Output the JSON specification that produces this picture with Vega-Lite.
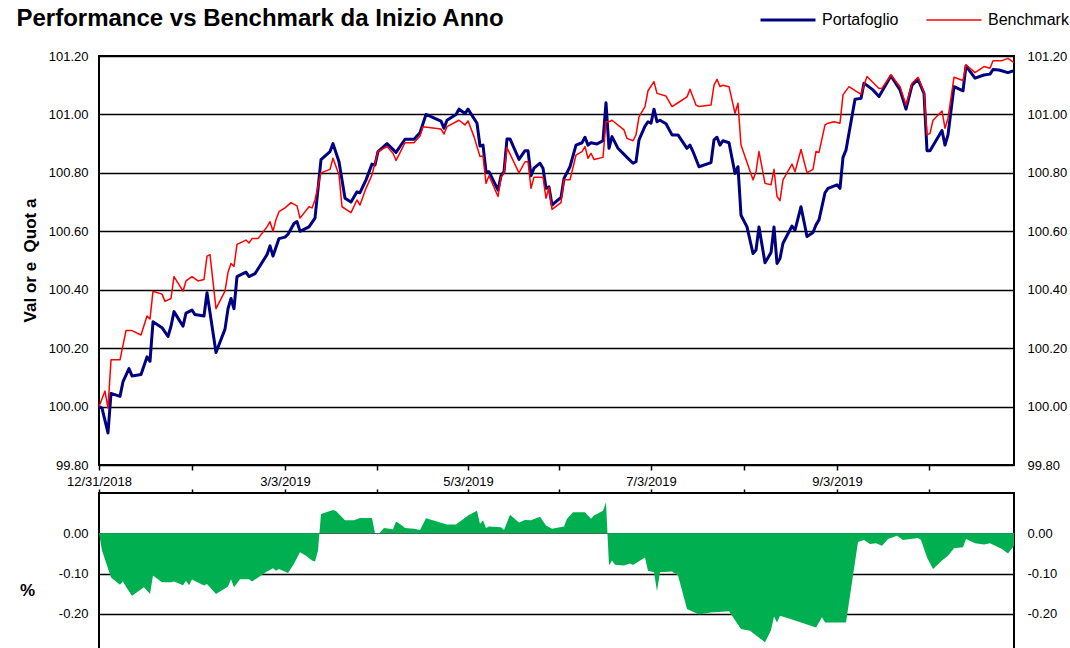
{
  "$schema": "https://vega.github.io/schema/vega-lite/v6.json",
  "background": "white",
  "padding": {"left": 16, "top": 7, "right": 0, "bottom": 0},
  "title": {"text": "Performance vs Benchmark da Inizio Anno", "anchor": "start", "font": "Liberation Sans", "fontSize": 24, "fontWeight": "bold", "color": "black", "offset": 10, "frame": "bounds", "dy": 29, "dx": -2},
  "config": {
    "font": "Liberation Sans",
    "view": {"stroke": "black", "strokeWidth": 2},
    "axis": {"labelFont": "Liberation Sans", "labelFontSize": 13, "labelColor": "black", "titleFont": "Liberation Sans", "titleColor": "black", "titleFontWeight": "bold", "titleFontSize": 17}
  },
  "bounds": "flush",
  "spacing": 28,
  "datasets": {
    "lines": [
      {"d":"2018-12-31","s":"Portafoglio","v":100.00},{"d":"2019-01-01","s":"Portafoglio","v":99.995},{"d":"2019-01-03","s":"Portafoglio","v":99.91},{"d":"2019-01-04","s":"Portafoglio","v":100.045},{"d":"2019-01-07","s":"Portafoglio","v":100.035},{"d":"2019-01-08","s":"Portafoglio","v":100.085},{"d":"2019-01-10","s":"Portafoglio","v":100.13},{"d":"2019-01-11","s":"Portafoglio","v":100.105},{"d":"2019-01-14","s":"Portafoglio","v":100.11},{"d":"2019-01-16","s":"Portafoglio","v":100.17},{"d":"2019-01-17","s":"Portafoglio","v":100.155},{"d":"2019-01-18","s":"Portafoglio","v":100.29},{"d":"2019-01-21","s":"Portafoglio","v":100.27},{"d":"2019-01-23","s":"Portafoglio","v":100.24},{"d":"2019-01-24","s":"Portafoglio","v":100.275},{"d":"2019-01-25","s":"Portafoglio","v":100.325},{"d":"2019-01-28","s":"Portafoglio","v":100.275},{"d":"2019-01-29","s":"Portafoglio","v":100.32},{"d":"2019-01-31","s":"Portafoglio","v":100.33},{"d":"2019-02-01","s":"Portafoglio","v":100.315},{"d":"2019-02-04","s":"Portafoglio","v":100.31},{"d":"2019-02-05","s":"Portafoglio","v":100.39},{"d":"2019-02-08","s":"Portafoglio","v":100.185},{"d":"2019-02-11","s":"Portafoglio","v":100.265},{"d":"2019-02-12","s":"Portafoglio","v":100.335},{"d":"2019-02-13","s":"Portafoglio","v":100.37},{"d":"2019-02-14","s":"Portafoglio","v":100.335},{"d":"2019-02-15","s":"Portafoglio","v":100.445},{"d":"2019-02-18","s":"Portafoglio","v":100.46},{"d":"2019-02-19","s":"Portafoglio","v":100.445},{"d":"2019-02-21","s":"Portafoglio","v":100.455},{"d":"2019-02-25","s":"Portafoglio","v":100.52},{"d":"2019-02-26","s":"Portafoglio","v":100.55},{"d":"2019-02-27","s":"Portafoglio","v":100.515},{"d":"2019-02-28","s":"Portafoglio","v":100.545},{"d":"2019-03-01","s":"Portafoglio","v":100.575},{"d":"2019-03-03","s":"Portafoglio","v":100.58},{"d":"2019-03-04","s":"Portafoglio","v":100.59},{"d":"2019-03-06","s":"Portafoglio","v":100.627},{"d":"2019-03-07","s":"Portafoglio","v":100.633},{"d":"2019-03-08","s":"Portafoglio","v":100.60},{"d":"2019-03-11","s":"Portafoglio","v":100.615},{"d":"2019-03-13","s":"Portafoglio","v":100.645},{"d":"2019-03-15","s":"Portafoglio","v":100.845},{"d":"2019-03-18","s":"Portafoglio","v":100.873},{"d":"2019-03-19","s":"Portafoglio","v":100.90},{"d":"2019-03-21","s":"Portafoglio","v":100.838},{"d":"2019-03-23","s":"Portafoglio","v":100.713},{"d":"2019-03-25","s":"Portafoglio","v":100.70},{"d":"2019-03-27","s":"Portafoglio","v":100.735},{"d":"2019-03-28","s":"Portafoglio","v":100.732},{"d":"2019-03-30","s":"Portafoglio","v":100.776},{"d":"2019-04-01","s":"Portafoglio","v":100.83},{"d":"2019-04-02","s":"Portafoglio","v":100.827},{"d":"2019-04-03","s":"Portafoglio","v":100.873},{"d":"2019-04-06","s":"Portafoglio","v":100.90},{"d":"2019-04-09","s":"Portafoglio","v":100.87},{"d":"2019-04-12","s":"Portafoglio","v":100.915},{"d":"2019-04-15","s":"Portafoglio","v":100.915},{"d":"2019-04-17","s":"Portafoglio","v":100.937},{"d":"2019-04-19","s":"Portafoglio","v":101.00},{"d":"2019-04-24","s":"Portafoglio","v":100.977},{"d":"2019-04-25","s":"Portafoglio","v":100.953},{"d":"2019-04-26","s":"Portafoglio","v":100.98},{"d":"2019-04-29","s":"Portafoglio","v":101.00},{"d":"2019-04-30","s":"Portafoglio","v":101.018},{"d":"2019-05-02","s":"Portafoglio","v":101.003},{"d":"2019-05-03","s":"Portafoglio","v":101.018},{"d":"2019-05-06","s":"Portafoglio","v":100.97},{"d":"2019-05-07","s":"Portafoglio","v":100.892},{"d":"2019-05-08","s":"Portafoglio","v":100.895},{"d":"2019-05-09","s":"Portafoglio","v":100.804},{"d":"2019-05-10","s":"Portafoglio","v":100.804},{"d":"2019-05-13","s":"Portafoglio","v":100.741},{"d":"2019-05-14","s":"Portafoglio","v":100.79},{"d":"2019-05-15","s":"Portafoglio","v":100.804},{"d":"2019-05-16","s":"Portafoglio","v":100.916},{"d":"2019-05-17","s":"Portafoglio","v":100.916},{"d":"2019-05-20","s":"Portafoglio","v":100.846},{"d":"2019-05-22","s":"Portafoglio","v":100.876},{"d":"2019-05-23","s":"Portafoglio","v":100.876},{"d":"2019-05-24","s":"Portafoglio","v":100.79},{"d":"2019-05-25","s":"Portafoglio","v":100.816},{"d":"2019-05-27","s":"Portafoglio","v":100.833},{"d":"2019-05-28","s":"Portafoglio","v":100.816},{"d":"2019-05-29","s":"Portafoglio","v":100.747},{"d":"2019-05-30","s":"Portafoglio","v":100.752},{"d":"2019-05-31","s":"Portafoglio","v":100.69},{"d":"2019-06-03","s":"Portafoglio","v":100.716},{"d":"2019-06-04","s":"Portafoglio","v":100.781},{"d":"2019-06-06","s":"Portafoglio","v":100.821},{"d":"2019-06-08","s":"Portafoglio","v":100.895},{"d":"2019-06-10","s":"Portafoglio","v":100.903},{"d":"2019-06-11","s":"Portafoglio","v":100.922},{"d":"2019-06-12","s":"Portafoglio","v":100.895},{"d":"2019-06-13","s":"Portafoglio","v":100.903},{"d":"2019-06-15","s":"Portafoglio","v":100.899},{"d":"2019-06-17","s":"Portafoglio","v":100.91},{"d":"2019-06-18","s":"Portafoglio","v":101.04},{"d":"2019-06-19","s":"Portafoglio","v":100.884},{"d":"2019-06-20","s":"Portafoglio","v":100.924},{"d":"2019-06-22","s":"Portafoglio","v":100.884},{"d":"2019-06-25","s":"Portafoglio","v":100.853},{"d":"2019-06-27","s":"Portafoglio","v":100.833},{"d":"2019-06-28","s":"Portafoglio","v":100.838},{"d":"2019-06-29","s":"Portafoglio","v":100.913},{"d":"2019-07-01","s":"Portafoglio","v":100.96},{"d":"2019-07-02","s":"Portafoglio","v":100.975},{"d":"2019-07-03","s":"Portafoglio","v":100.97},{"d":"2019-07-04","s":"Portafoglio","v":101.018},{"d":"2019-07-05","s":"Portafoglio","v":100.975},{"d":"2019-07-06","s":"Portafoglio","v":100.98},{"d":"2019-07-08","s":"Portafoglio","v":100.968},{"d":"2019-07-10","s":"Portafoglio","v":100.93},{"d":"2019-07-12","s":"Portafoglio","v":100.93},{"d":"2019-07-15","s":"Portafoglio","v":100.884},{"d":"2019-07-16","s":"Portafoglio","v":100.895},{"d":"2019-07-17","s":"Portafoglio","v":100.873},{"d":"2019-07-19","s":"Portafoglio","v":100.821},{"d":"2019-07-23","s":"Portafoglio","v":100.835},{"d":"2019-07-24","s":"Portafoglio","v":100.913},{"d":"2019-07-25","s":"Portafoglio","v":100.922},{"d":"2019-07-26","s":"Portafoglio","v":100.895},{"d":"2019-07-27","s":"Portafoglio","v":100.91},{"d":"2019-07-29","s":"Portafoglio","v":100.903},{"d":"2019-07-31","s":"Portafoglio","v":100.798},{"d":"2019-08-01","s":"Portafoglio","v":100.821},{"d":"2019-08-02","s":"Portafoglio","v":100.655},{"d":"2019-08-04","s":"Portafoglio","v":100.615},{"d":"2019-08-06","s":"Portafoglio","v":100.524},{"d":"2019-08-07","s":"Portafoglio","v":100.536},{"d":"2019-08-08","s":"Portafoglio","v":100.615},{"d":"2019-08-10","s":"Portafoglio","v":100.492},{"d":"2019-08-12","s":"Portafoglio","v":100.527},{"d":"2019-08-13","s":"Portafoglio","v":100.615},{"d":"2019-08-14","s":"Portafoglio","v":100.49},{"d":"2019-08-15","s":"Portafoglio","v":100.507},{"d":"2019-08-16","s":"Portafoglio","v":100.559},{"d":"2019-08-19","s":"Portafoglio","v":100.618},{"d":"2019-08-20","s":"Portafoglio","v":100.604},{"d":"2019-08-22","s":"Portafoglio","v":100.684},{"d":"2019-08-24","s":"Portafoglio","v":100.582},{"d":"2019-08-26","s":"Portafoglio","v":100.596},{"d":"2019-08-27","s":"Portafoglio","v":100.622},{"d":"2019-08-28","s":"Portafoglio","v":100.639},{"d":"2019-08-30","s":"Portafoglio","v":100.732},{"d":"2019-08-31","s":"Portafoglio","v":100.747},{"d":"2019-09-03","s":"Portafoglio","v":100.759},{"d":"2019-09-04","s":"Portafoglio","v":100.747},{"d":"2019-09-05","s":"Portafoglio","v":100.853},{"d":"2019-09-06","s":"Portafoglio","v":100.878},{"d":"2019-09-09","s":"Portafoglio","v":101.052},{"d":"2019-09-11","s":"Portafoglio","v":101.055},{"d":"2019-09-12","s":"Portafoglio","v":101.107},{"d":"2019-09-15","s":"Portafoglio","v":101.084},{"d":"2019-09-17","s":"Portafoglio","v":101.061},{"d":"2019-09-21","s":"Portafoglio","v":101.132},{"d":"2019-09-24","s":"Portafoglio","v":101.084},{"d":"2019-09-26","s":"Portafoglio","v":101.018},{"d":"2019-09-28","s":"Portafoglio","v":101.10},{"d":"2019-09-30","s":"Portafoglio","v":101.12},{"d":"2019-10-02","s":"Portafoglio","v":101.072},{"d":"2019-10-03","s":"Portafoglio","v":100.876},{"d":"2019-10-04","s":"Portafoglio","v":100.876},{"d":"2019-10-08","s":"Portafoglio","v":100.945},{"d":"2019-10-09","s":"Portafoglio","v":100.895},{"d":"2019-10-10","s":"Portafoglio","v":100.93},{"d":"2019-10-12","s":"Portafoglio","v":101.095},{"d":"2019-10-15","s":"Portafoglio","v":101.081},{"d":"2019-10-16","s":"Portafoglio","v":101.166},{"d":"2019-10-19","s":"Portafoglio","v":101.124},{"d":"2019-10-22","s":"Portafoglio","v":101.135},{"d":"2019-10-24","s":"Portafoglio","v":101.138},{"d":"2019-10-25","s":"Portafoglio","v":101.154},{"d":"2019-10-27","s":"Portafoglio","v":101.152},{"d":"2019-10-30","s":"Portafoglio","v":101.143},{"d":"2019-11-01","s":"Portafoglio","v":101.15},
      {"d":"2018-12-31","s":"Benchmark","v":100.00},{"d":"2019-01-02","s":"Benchmark","v":100.053},{"d":"2019-01-03","s":"Benchmark","v":99.995},{"d":"2019-01-04","s":"Benchmark","v":100.16},{"d":"2019-01-07","s":"Benchmark","v":100.16},{"d":"2019-01-09","s":"Benchmark","v":100.26},{"d":"2019-01-11","s":"Benchmark","v":100.26},{"d":"2019-01-14","s":"Benchmark","v":100.245},{"d":"2019-01-16","s":"Benchmark","v":100.31},{"d":"2019-01-17","s":"Benchmark","v":100.30},{"d":"2019-01-18","s":"Benchmark","v":100.395},{"d":"2019-01-21","s":"Benchmark","v":100.385},{"d":"2019-01-22","s":"Benchmark","v":100.36},{"d":"2019-01-24","s":"Benchmark","v":100.37},{"d":"2019-01-25","s":"Benchmark","v":100.445},{"d":"2019-01-28","s":"Benchmark","v":100.395},{"d":"2019-01-29","s":"Benchmark","v":100.43},{"d":"2019-01-31","s":"Benchmark","v":100.445},{"d":"2019-02-02","s":"Benchmark","v":100.43},{"d":"2019-02-04","s":"Benchmark","v":100.435},{"d":"2019-02-05","s":"Benchmark","v":100.515},{"d":"2019-02-06","s":"Benchmark","v":100.52},{"d":"2019-02-08","s":"Benchmark","v":100.335},{"d":"2019-02-11","s":"Benchmark","v":100.395},{"d":"2019-02-12","s":"Benchmark","v":100.46},{"d":"2019-02-13","s":"Benchmark","v":100.49},{"d":"2019-02-14","s":"Benchmark","v":100.48},{"d":"2019-02-15","s":"Benchmark","v":100.555},{"d":"2019-02-18","s":"Benchmark","v":100.57},{"d":"2019-02-19","s":"Benchmark","v":100.56},{"d":"2019-02-20","s":"Benchmark","v":100.575},{"d":"2019-02-22","s":"Benchmark","v":100.575},{"d":"2019-02-25","s":"Benchmark","v":100.615},{"d":"2019-02-26","s":"Benchmark","v":100.633},{"d":"2019-02-27","s":"Benchmark","v":100.60},{"d":"2019-02-28","s":"Benchmark","v":100.64},{"d":"2019-03-01","s":"Benchmark","v":100.667},{"d":"2019-03-03","s":"Benchmark","v":100.68},{"d":"2019-03-05","s":"Benchmark","v":100.698},{"d":"2019-03-07","s":"Benchmark","v":100.687},{"d":"2019-03-08","s":"Benchmark","v":100.645},{"d":"2019-03-11","s":"Benchmark","v":100.684},{"d":"2019-03-12","s":"Benchmark","v":100.68},{"d":"2019-03-13","s":"Benchmark","v":100.707},{"d":"2019-03-15","s":"Benchmark","v":100.80},{"d":"2019-03-18","s":"Benchmark","v":100.812},{"d":"2019-03-19","s":"Benchmark","v":100.85},{"d":"2019-03-21","s":"Benchmark","v":100.793},{"d":"2019-03-22","s":"Benchmark","v":100.684},{"d":"2019-03-25","s":"Benchmark","v":100.664},{"d":"2019-03-27","s":"Benchmark","v":100.707},{"d":"2019-03-28","s":"Benchmark","v":100.69},{"d":"2019-03-30","s":"Benchmark","v":100.747},{"d":"2019-04-01","s":"Benchmark","v":100.793},{"d":"2019-04-03","s":"Benchmark","v":100.873},{"d":"2019-04-06","s":"Benchmark","v":100.89},{"d":"2019-04-08","s":"Benchmark","v":100.867},{"d":"2019-04-09","s":"Benchmark","v":100.842},{"d":"2019-04-12","s":"Benchmark","v":100.903},{"d":"2019-04-15","s":"Benchmark","v":100.903},{"d":"2019-04-17","s":"Benchmark","v":100.926},{"d":"2019-04-18","s":"Benchmark","v":100.958},{"d":"2019-04-24","s":"Benchmark","v":100.95},{"d":"2019-04-25","s":"Benchmark","v":100.933},{"d":"2019-04-26","s":"Benchmark","v":100.958},{"d":"2019-04-30","s":"Benchmark","v":100.98},{"d":"2019-05-02","s":"Benchmark","v":100.964},{"d":"2019-05-03","s":"Benchmark","v":100.978},{"d":"2019-05-05","s":"Benchmark","v":100.924},{"d":"2019-05-07","s":"Benchmark","v":100.856},{"d":"2019-05-08","s":"Benchmark","v":100.858},{"d":"2019-05-09","s":"Benchmark","v":100.764},{"d":"2019-05-10","s":"Benchmark","v":100.79},{"d":"2019-05-13","s":"Benchmark","v":100.719},{"d":"2019-05-14","s":"Benchmark","v":100.785},{"d":"2019-05-15","s":"Benchmark","v":100.80},{"d":"2019-05-16","s":"Benchmark","v":100.886},{"d":"2019-05-20","s":"Benchmark","v":100.80},{"d":"2019-05-22","s":"Benchmark","v":100.838},{"d":"2019-05-23","s":"Benchmark","v":100.838},{"d":"2019-05-24","s":"Benchmark","v":100.747},{"d":"2019-05-25","s":"Benchmark","v":100.785},{"d":"2019-05-28","s":"Benchmark","v":100.785},{"d":"2019-05-29","s":"Benchmark","v":100.713},{"d":"2019-05-30","s":"Benchmark","v":100.75},{"d":"2019-05-31","s":"Benchmark","v":100.675},{"d":"2019-06-03","s":"Benchmark","v":100.698},{"d":"2019-06-04","s":"Benchmark","v":100.776},{"d":"2019-06-06","s":"Benchmark","v":100.776},{"d":"2019-06-08","s":"Benchmark","v":100.861},{"d":"2019-06-10","s":"Benchmark","v":100.873},{"d":"2019-06-11","s":"Benchmark","v":100.89},{"d":"2019-06-12","s":"Benchmark","v":100.85},{"d":"2019-06-13","s":"Benchmark","v":100.867},{"d":"2019-06-14","s":"Benchmark","v":100.846},{"d":"2019-06-17","s":"Benchmark","v":100.853},{"d":"2019-06-18","s":"Benchmark","v":100.975},{"d":"2019-06-19","s":"Benchmark","v":100.975},{"d":"2019-06-20","s":"Benchmark","v":100.98},{"d":"2019-06-24","s":"Benchmark","v":100.947},{"d":"2019-06-25","s":"Benchmark","v":100.918},{"d":"2019-06-27","s":"Benchmark","v":100.91},{"d":"2019-06-28","s":"Benchmark","v":100.93},{"d":"2019-06-29","s":"Benchmark","v":100.992},{"d":"2019-07-01","s":"Benchmark","v":101.027},{"d":"2019-07-02","s":"Benchmark","v":101.081},{"d":"2019-07-04","s":"Benchmark","v":101.112},{"d":"2019-07-05","s":"Benchmark","v":101.072},{"d":"2019-07-08","s":"Benchmark","v":101.063},{"d":"2019-07-10","s":"Benchmark","v":101.027},{"d":"2019-07-12","s":"Benchmark","v":101.04},{"d":"2019-07-15","s":"Benchmark","v":101.06},{"d":"2019-07-16","s":"Benchmark","v":101.086},{"d":"2019-07-18","s":"Benchmark","v":101.032},{"d":"2019-07-19","s":"Benchmark","v":101.027},{"d":"2019-07-23","s":"Benchmark","v":101.032},{"d":"2019-07-24","s":"Benchmark","v":101.10},{"d":"2019-07-25","s":"Benchmark","v":101.12},{"d":"2019-07-26","s":"Benchmark","v":101.095},{"d":"2019-07-27","s":"Benchmark","v":101.10},{"d":"2019-07-29","s":"Benchmark","v":101.095},{"d":"2019-07-31","s":"Benchmark","v":101.004},{"d":"2019-08-01","s":"Benchmark","v":101.038},{"d":"2019-08-02","s":"Benchmark","v":100.895},{"d":"2019-08-06","s":"Benchmark","v":100.776},{"d":"2019-08-07","s":"Benchmark","v":100.804},{"d":"2019-08-08","s":"Benchmark","v":100.873},{"d":"2019-08-10","s":"Benchmark","v":100.764},{"d":"2019-08-12","s":"Benchmark","v":100.759},{"d":"2019-08-13","s":"Benchmark","v":100.812},{"d":"2019-08-14","s":"Benchmark","v":100.719},{"d":"2019-08-15","s":"Benchmark","v":100.705},{"d":"2019-08-16","s":"Benchmark","v":100.776},{"d":"2019-08-19","s":"Benchmark","v":100.83},{"d":"2019-08-20","s":"Benchmark","v":100.804},{"d":"2019-08-22","s":"Benchmark","v":100.88},{"d":"2019-08-24","s":"Benchmark","v":100.80},{"d":"2019-08-26","s":"Benchmark","v":100.812},{"d":"2019-08-27","s":"Benchmark","v":100.873},{"d":"2019-08-28","s":"Benchmark","v":100.87},{"d":"2019-08-30","s":"Benchmark","v":100.964},{"d":"2019-08-31","s":"Benchmark","v":100.97},{"d":"2019-09-02","s":"Benchmark","v":100.975},{"d":"2019-09-04","s":"Benchmark","v":100.97},{"d":"2019-09-05","s":"Benchmark","v":101.067},{"d":"2019-09-07","s":"Benchmark","v":101.095},{"d":"2019-09-11","s":"Benchmark","v":101.069},{"d":"2019-09-13","s":"Benchmark","v":101.13},{"d":"2019-09-17","s":"Benchmark","v":101.089},{"d":"2019-09-18","s":"Benchmark","v":101.09},{"d":"2019-09-21","s":"Benchmark","v":101.135},{"d":"2019-09-24","s":"Benchmark","v":101.095},{"d":"2019-09-26","s":"Benchmark","v":101.032},{"d":"2019-09-28","s":"Benchmark","v":101.107},{"d":"2019-09-30","s":"Benchmark","v":101.127},{"d":"2019-10-02","s":"Benchmark","v":101.075},{"d":"2019-10-03","s":"Benchmark","v":100.93},{"d":"2019-10-04","s":"Benchmark","v":100.935},{"d":"2019-10-05","s":"Benchmark","v":100.98},{"d":"2019-10-08","s":"Benchmark","v":101.012},{"d":"2019-10-09","s":"Benchmark","v":100.953},{"d":"2019-10-10","s":"Benchmark","v":100.987},{"d":"2019-10-12","s":"Benchmark","v":101.127},{"d":"2019-10-15","s":"Benchmark","v":101.116},{"d":"2019-10-16","s":"Benchmark","v":101.17},{"d":"2019-10-19","s":"Benchmark","v":101.143},{"d":"2019-10-22","s":"Benchmark","v":101.164},{"d":"2019-10-24","s":"Benchmark","v":101.158},{"d":"2019-10-25","s":"Benchmark","v":101.184},{"d":"2019-10-28","s":"Benchmark","v":101.184},{"d":"2019-10-30","s":"Benchmark","v":101.192},{"d":"2019-11-01","s":"Benchmark","v":101.177}
    ],
    "diff": [
      {"d":"2018-12-31","v":0},{"d":"2019-01-01","v":-0.043},{"d":"2019-01-04","v":-0.11},{"d":"2019-01-07","v":-0.128},{"d":"2019-01-08","v":-0.12},{"d":"2019-01-09","v":-0.133},{"d":"2019-01-11","v":-0.155},{"d":"2019-01-15","v":-0.134},{"d":"2019-01-17","v":-0.151},{"d":"2019-01-18","v":-0.105},{"d":"2019-01-21","v":-0.122},{"d":"2019-01-24","v":-0.122},{"d":"2019-01-25","v":-0.12},{"d":"2019-01-28","v":-0.129},{"d":"2019-01-29","v":-0.118},{"d":"2019-01-30","v":-0.129},{"d":"2019-01-31","v":-0.115},{"d":"2019-02-04","v":-0.13},{"d":"2019-02-05","v":-0.126},{"d":"2019-02-08","v":-0.151},{"d":"2019-02-12","v":-0.132},{"d":"2019-02-13","v":-0.114},{"d":"2019-02-14","v":-0.134},{"d":"2019-02-16","v":-0.114},{"d":"2019-02-19","v":-0.114},{"d":"2019-02-20","v":-0.12},{"d":"2019-02-23","v":-0.105},{"d":"2019-02-25","v":-0.095},{"d":"2019-02-27","v":-0.087},{"d":"2019-02-28","v":-0.093},{"d":"2019-03-01","v":-0.089},{"d":"2019-03-04","v":-0.099},{"d":"2019-03-06","v":-0.076},{"d":"2019-03-08","v":-0.047},{"d":"2019-03-10","v":-0.056},{"d":"2019-03-12","v":-0.068},{"d":"2019-03-13","v":-0.07},{"d":"2019-03-14","v":-0.043},{"d":"2019-03-15","v":0.048},{"d":"2019-03-19","v":0.058},{"d":"2019-03-20","v":0.055},{"d":"2019-03-23","v":0.032},{"d":"2019-03-26","v":0.032},{"d":"2019-03-28","v":0.038},{"d":"2019-04-01","v":0.038},{"d":"2019-04-02","v":0.0},{"d":"2019-04-03","v":-0.003},{"d":"2019-04-05","v":0.013},{"d":"2019-04-08","v":0.01},{"d":"2019-04-09","v":0.029},{"d":"2019-04-11","v":0.019},{"d":"2019-04-12","v":0.013},{"d":"2019-04-15","v":0.011},{"d":"2019-04-17","v":0.008},{"d":"2019-04-19","v":0.037},{"d":"2019-04-26","v":0.022},{"d":"2019-04-29","v":0.022},{"d":"2019-05-01","v":0.033},{"d":"2019-05-03","v":0.044},{"d":"2019-05-06","v":0.056},{"d":"2019-05-07","v":0.023},{"d":"2019-05-08","v":0.032},{"d":"2019-05-09","v":0.013},{"d":"2019-05-10","v":0.017},{"d":"2019-05-14","v":0.015},{"d":"2019-05-15","v":0.008},{"d":"2019-05-17","v":0.046},{"d":"2019-05-20","v":0.027},{"d":"2019-05-22","v":0.033},{"d":"2019-05-24","v":0.032},{"d":"2019-05-27","v":0.041},{"d":"2019-05-29","v":0.019},{"d":"2019-05-31","v":0.011},{"d":"2019-06-04","v":0.017},{"d":"2019-06-05","v":0.036},{"d":"2019-06-07","v":0.052},{"d":"2019-06-11","v":0.052},{"d":"2019-06-12","v":0.044},{"d":"2019-06-13","v":0.036},{"d":"2019-06-14","v":0.044},{"d":"2019-06-17","v":0.056},{"d":"2019-06-18","v":0.077},{"d":"2019-06-19","v":-0.08},{"d":"2019-06-20","v":-0.068},{"d":"2019-06-21","v":-0.078},{"d":"2019-06-24","v":-0.08},{"d":"2019-06-26","v":-0.075},{"d":"2019-06-27","v":-0.079},{"d":"2019-07-01","v":-0.06},{"d":"2019-07-02","v":-0.093},{"d":"2019-07-04","v":-0.097},{"d":"2019-07-05","v":-0.144},{"d":"2019-07-06","v":-0.097},{"d":"2019-07-10","v":-0.095},{"d":"2019-07-12","v":-0.105},{"d":"2019-07-15","v":-0.188},{"d":"2019-07-19","v":-0.202},{"d":"2019-07-23","v":-0.197},{"d":"2019-07-29","v":-0.194},{"d":"2019-08-02","v":-0.238},{"d":"2019-08-05","v":-0.242},{"d":"2019-08-10","v":-0.271},{"d":"2019-08-12","v":-0.241},{"d":"2019-08-13","v":-0.207},{"d":"2019-08-14","v":-0.222},{"d":"2019-08-15","v":-0.205},{"d":"2019-08-20","v":-0.217},{"d":"2019-08-23","v":-0.224},{"d":"2019-08-27","v":-0.234},{"d":"2019-08-29","v":-0.209},{"d":"2019-08-30","v":-0.222},{"d":"2019-09-03","v":-0.222},{"d":"2019-09-06","v":-0.222},{"d":"2019-09-10","v":-0.022},{"d":"2019-09-12","v":-0.017},{"d":"2019-09-14","v":-0.027},{"d":"2019-09-16","v":-0.025},{"d":"2019-09-18","v":-0.031},{"d":"2019-09-20","v":-0.014},{"d":"2019-09-23","v":-0.006},{"d":"2019-09-25","v":-0.017},{"d":"2019-09-30","v":-0.012},{"d":"2019-10-01","v":-0.017},{"d":"2019-10-03","v":-0.06},{"d":"2019-10-05","v":-0.089},{"d":"2019-10-08","v":-0.068},{"d":"2019-10-10","v":-0.056},{"d":"2019-10-12","v":-0.037},{"d":"2019-10-15","v":-0.035},{"d":"2019-10-16","v":-0.014},{"d":"2019-10-19","v":-0.025},{"d":"2019-10-22","v":-0.028},{"d":"2019-10-24","v":-0.025},{"d":"2019-10-28","v":-0.039},{"d":"2019-10-30","v":-0.05},{"d":"2019-11-01","v":-0.031}
    ]
  },
  "vconcat": [
    {
      "width": 915,
      "height": 409,
      "data": {"name": "lines"},
      "encoding": {
        "x": {"field": "d", "type": "temporal",
          "scale": {"type": "utc", "domain": [{"year": 2018, "month": 12, "date": 31, "utc": true}, {"year": 2019, "month": 11, "date": 1, "utc": true}]},
          "axis": {"title": null, "grid": false, "domain": false, "ticks": true, "tickColor": "black", "tickSize": 5, "tickWidth": 1.5, "labelPadding": 5, "labelAngle": 0, "labelFlush": false, "labelOverlap": false, "labelBound": false,
            "values": [{"year": 2018, "month": 12, "date": 31, "utc": true}, {"year": 2019, "month": 1, "date": 31, "utc": true}, {"year": 2019, "month": 3, "date": 3, "utc": true}, {"year": 2019, "month": 4, "date": 2, "hours": 12, "utc": true}, {"year": 2019, "month": 5, "date": 3, "utc": true}, {"year": 2019, "month": 6, "date": 2, "hours": 12, "utc": true}, {"year": 2019, "month": 7, "date": 3, "utc": true}, {"year": 2019, "month": 8, "date": 3, "utc": true}, {"year": 2019, "month": 9, "date": 3, "utc": true}, {"year": 2019, "month": 10, "date": 3, "hours": 12, "utc": true}],
            "labelExpr": "(utcmonth(datum.value) == 11 || utcmonth(datum.value) == 2 || utcmonth(datum.value) == 4 || utcmonth(datum.value) == 6 || utcmonth(datum.value) == 8) ? utcFormat(datum.value, '%-m/%-d/%Y') : ''"}}
      },
      "layer": [
        {
          "mark": {"type": "line", "strokeJoin": "round"},
          "encoding": {
            "y": {"field": "v", "type": "quantitative",
              "scale": {"domain": [99.8, 101.2], "nice": false, "zero": false},
              "axis": {"title": "Val or e\u00a0 Quot a", "titleX": -69, "titleY": 204, "titleAlign": "center", "titleBaseline": "middle", "grid": true, "gridColor": "black", "gridWidth": 1.5, "domain": false, "ticks": false, "labelPadding": 11,
                "values": [99.8, 100, 100.2, 100.4, 100.6, 100.8, 101, 101.2], "labelExpr": "format(datum.value, '.2f')"}},
            "color": {"field": "s", "type": "nominal",
              "scale": {"domain": ["Portafoglio", "Benchmark"], "range": ["#000080", "#FF0000"]},
              "legend": {"orient": "none", "legendX": 681, "legendY": -44, "direction": "horizontal", "title": null, "labelFont": "Liberation Sans", "labelFontSize": 16, "labelColor": "black", "symbolType": "M-5,0H5", "symbolSize": 121, "labelOffset": 26, "columnPadding": 24, "padding": 0}},
            "strokeWidth": {"field": "s", "type": "nominal",
              "scale": {"domain": ["Portafoglio", "Benchmark"], "range": [3, 1.5]},
              "legend": {"orient": "none", "legendX": 681, "legendY": -44, "direction": "horizontal", "title": null, "labelFont": "Liberation Sans", "labelFontSize": 16, "labelColor": "black", "symbolType": "M-5,0H5", "symbolSize": 121, "labelOffset": 26, "columnPadding": 24, "padding": 0}}
          }
        },
        {
          "mark": {"type": "line", "opacity": 0},
          "encoding": {
            "y": {"field": "v", "type": "quantitative",
              "scale": {"domain": [99.8, 101.2], "nice": false, "zero": false},
              "axis": {"orient": "right", "title": null, "grid": false, "domain": false, "ticks": false, "labelPadding": 13,
                "values": [99.8, 100, 100.2, 100.4, 100.6, 100.8, 101, 101.2], "labelExpr": "format(datum.value, '.2f')"}},
            "detail": {"field": "s", "type": "nominal"}
          }
        }
      ],
      "resolve": {"scale": {"y": "independent"}, "axis": {"y": "independent"}}
    },
    {
      "width": 915,
      "height": 161,
      "data": {"name": "diff"},
      "encoding": {
        "x": {"field": "d", "type": "temporal",
          "scale": {"type": "utc", "domain": [{"year": 2018, "month": 12, "date": 31, "utc": true}, {"year": 2019, "month": 11, "date": 1, "utc": true}]},
          "axis": {"orient": "top", "title": null, "labels": false, "grid": false, "domain": false, "ticks": true, "tickColor": "black", "tickSize": 4, "tickWidth": 1.5,
            "values": [{"year": 2018, "month": 12, "date": 31, "utc": true}, {"year": 2019, "month": 1, "date": 31, "utc": true}, {"year": 2019, "month": 3, "date": 3, "utc": true}, {"year": 2019, "month": 4, "date": 2, "hours": 12, "utc": true}, {"year": 2019, "month": 5, "date": 3, "utc": true}, {"year": 2019, "month": 6, "date": 2, "hours": 12, "utc": true}, {"year": 2019, "month": 7, "date": 3, "utc": true}, {"year": 2019, "month": 8, "date": 3, "utc": true}, {"year": 2019, "month": 9, "date": 3, "utc": true}, {"year": 2019, "month": 10, "date": 3, "hours": 12, "utc": true}]}}
      },
      "layer": [
        {
          "mark": {"type": "area", "color": "#00B050", "opacity": 1},
          "encoding": {
            "y": {"field": "v", "type": "quantitative",
              "scale": {"domain": [-0.3, 0.1], "nice": false, "zero": false},
              "axis": {"title": "%", "titleAngle": 0, "titleX": -72, "titleY": 97, "titleAlign": "center", "titleBaseline": "middle", "grid": true,
                "gridColor": {"condition": {"test": "datum.value === 0", "value": "#555555"}, "value": "black"},
                "gridWidth": {"condition": {"test": "datum.value === 0", "value": 1}, "value": 1.5},
                "domain": false, "ticks": false, "labelPadding": 11,
                "values": [0, -0.1, -0.2], "labelExpr": "replace(format(datum.value, '.2f'), '\u2212', '-')"}},
            "y2": {"datum": 0}
          }
        },
        {
          "mark": {"type": "line", "opacity": 0},
          "encoding": {
            "y": {"field": "v", "type": "quantitative",
              "scale": {"domain": [-0.3, 0.1], "nice": false, "zero": false},
              "axis": {"orient": "right", "title": null, "grid": false, "domain": false, "ticks": false, "labelPadding": 13,
                "values": [0, -0.1, -0.2], "labelExpr": "replace(format(datum.value, '.2f'), '\u2212', '-')"}}
          }
        }
      ],
      "resolve": {"scale": {"y": "independent"}, "axis": {"y": "independent"}}
    }
  ]
}
